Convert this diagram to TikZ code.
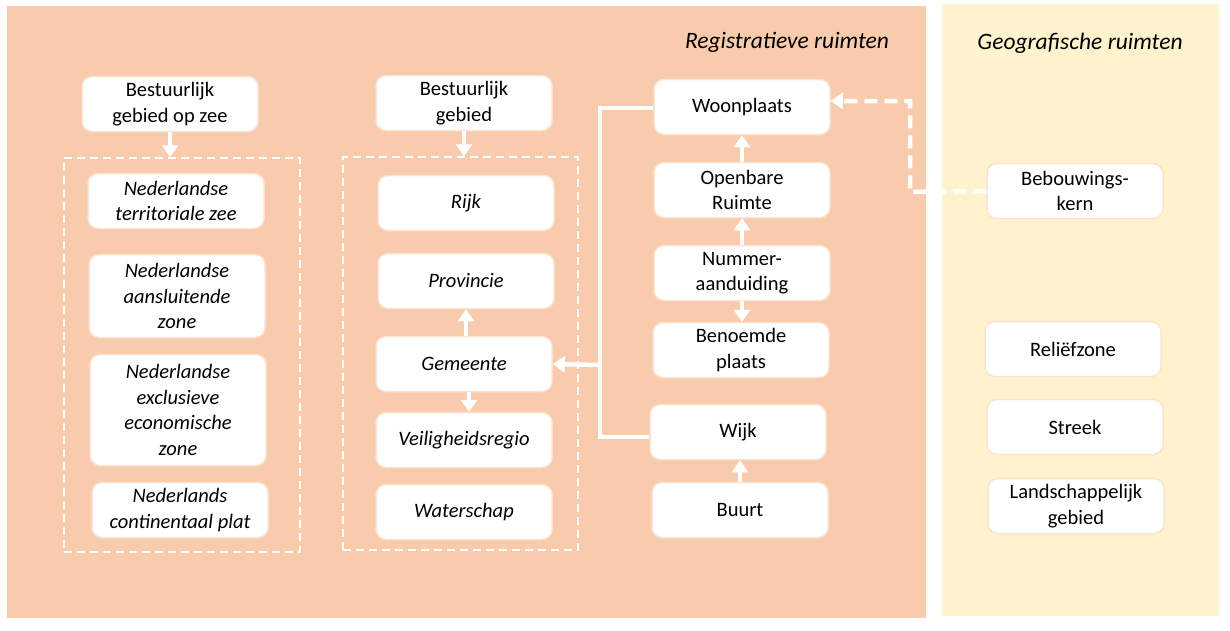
\documentclass[tikz,border=0pt]{standalone}
\usepackage{fontspec}
\setmainfont{Carlito}
\usetikzlibrary{arrows.meta,calc}
\definecolor{peach}{HTML}{F8CBAD}
\definecolor{paleyellow}{HTML}{FFF2CC}
\definecolor{nodeborder}{HTML}{FBE3D3}
\begin{document}
\begin{tikzpicture}[x=1pt,y=-1pt,
  box/.style={draw=nodeborder, line width=1.5pt, fill=white, rounded corners=10pt,
    minimum width=176pt, minimum height=55pt, align=center, inner sep=2pt,
    font=\fontsize{20.5}{25.5}\selectfont},
  ibox/.style={box, font=\fontsize{20.5}{25.5}\selectfont\itshape},
  dbox/.style={draw=white, line width=1.5pt, dash pattern=on 8pt off 5pt, minimum width=0pt, minimum height=0pt, inner sep=0pt},
  arr/.style={draw=white, line width=4.5pt, -{Triangle[width=16pt,length=12pt]}, white},
  conn/.style={draw=white, line width=4.5pt},
  darr/.style={draw=white, line width=4.5pt, dash pattern=on 13pt off 7pt, -{Triangle[width=16pt,length=12pt]}, white},
  title/.style={font=\fontsize{23.5}{28}\selectfont\itshape}
]
\useasboundingbox (0,0) rectangle (1230,630);
\fill[white] (0,0) rectangle (1230,630);
\fill[peach] (7,6) rectangle (926,618);
\fill[paleyellow] (942,4) rectangle (1219,616);
\node[title] (t1) at (787,42) {Registratieve ruimten};
\node[title] (t2) at (1080,43) {Geografische ruimten};

% left column
\node[box] (bgz) at (170,104) {Bestuurlijk\\gebied op zee};
\node[dbox, minimum width=236pt, minimum height=394pt] (box1) at (182,355) {};
\node[ibox] (ntz) at (176,201) {Nederlandse\\territoriale zee};
\node[ibox, minimum height=83pt] (naz) at (177,296) {Nederlandse\\aansluitende\\zone};
\node[ibox, minimum height=111pt] (neez) at (178,410) {Nederlandse\\exclusieve\\economische\\zone};
\node[ibox] (ncp) at (180,510) {Nederlands\\continentaal plat};
\draw[arr] (bgz.south) -- (bgz.south |- box1.north);

% middle column
\node[box] (bg) at (464,103) {Bestuurlijk\\gebied};
\node[dbox, minimum width=235pt, minimum height=393pt] (box2) at (460.5,353.5) {};
\node[ibox] (rijk) at (466,203) {Rijk};
\node[ibox] (prov) at (466,281) {Provincie};
\node[ibox] (gem) at (464,364) {Gemeente};
\node[ibox] (vr) at (464,440) {Veiligheidsregio};
\node[ibox] (ws) at (464,512) {Waterschap};
\draw[arr] (bg.south) -- (bg.south |- box2.north);
\draw[arr] ([xshift=2pt]gem.north) -- ([xshift=2pt]gem.north |- prov.south);
\draw[arr] ([xshift=5pt]gem.south) -- ([xshift=5pt]gem.south |- vr.north);

% right column
\node[box] (wp) at (742,107) {Woonplaats};
\node[box] (or) at (742,190) {Openbare\\Ruimte};
\node[box] (na) at (742,273) {Nummer-\\aanduiding};
\node[box] (bp) at (741,350) {Benoemde\\plaats};
\node[box] (wijk) at (738,432) {Wijk};
\node[box] (buurt) at (740,510) {Buurt};
\draw[arr] (or.north) -- (or.north |- wp.south);
\draw[arr] (na.north) -- (na.north |- or.south);
\draw[arr] (na.south) -- (na.south |- bp.north);
\draw[arr] (buurt.north) -- (buurt.north |- wijk.south);

\coordinate (cx) at (600,365);
\coordinate (ctop) at (600,108);
\coordinate (cbot) at (600,437);
\draw[conn] ([yshift=-1pt]wp.west) -- (ctop) -- (cbot) -- ([yshift=-5pt]wijk.west);
\draw[arr] (cx) -- (gem.east);

% geographic
\node[box] (bk) at (1075,191) {Bebouwings-\\kern};
\node[box] (rz) at (1073,349) {Reliëfzone};
\node[box] (st) at (1075,427) {Streek};
\node[box] (lg) at (1076,506) {Landschappelijk\\gebied};

\coordinate (bend1) at (910,192);
\coordinate (bend2) at (910,101);
\draw[darr] (bk.west) -- (bend1) -- (bend2) -- ([yshift=6pt]wp.east);
\end{tikzpicture}
\end{document}
